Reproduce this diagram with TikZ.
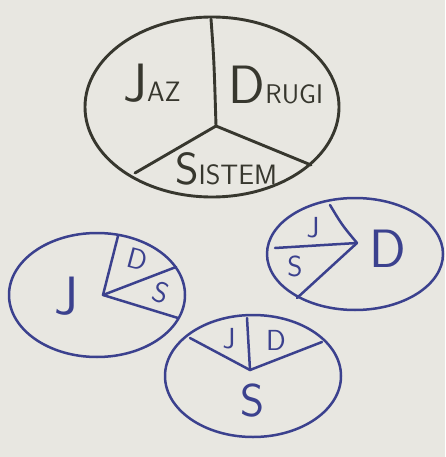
\documentclass[tikz,border=0pt]{standalone}
\begin{document}
\begin{tikzpicture}[x=1pt,y=-1pt,
  ink/.style={line width=2.9pt,line cap=round,line join=round},
  dark/.style={ink,draw=darkink},
  blue/.style={ink,draw=blueink,line width=2.5pt},
  txt/.style={inner sep=0pt,font=\sffamily},
  big/.style={font=\sffamily\fontsize{54}{54}\selectfont},
  sml/.style={font=\sffamily\fontsize{29}{29}\selectfont}]
\definecolor{darkink}{HTML}{37372E}
\definecolor{blueink}{HTML}{3B418E}
\definecolor{board}{HTML}{E8E7E1}
\useasboundingbox (0,0) rectangle (445,457);
\fill[board] (0,0) rectangle (445,457);
% top pie
\coordinate (tc) at (216,126);
\draw[dark] (212,107) ellipse [x radius=127, y radius=90];
\draw[dark] (211,19) .. controls (214,60) .. (tc);
\draw[dark] (tc) -- (135,173);
\draw[dark] (tc) -- (311,165);
\node[txt,text=darkink,anchor=base] (jaz) at (152,102) {\fontsize{54}{54}\selectfont J\fontsize{28}{28}\selectfont AZ};
\node[txt,text=darkink,anchor=base] (drugi) at (276,104) {\fontsize{54}{54}\selectfont D\fontsize{27}{27}\selectfont RUGI};
\node[txt,text=darkink,anchor=base] (sistem) at (226,184) {\fontsize{45}{45}\selectfont S\fontsize{28}{28}\selectfont ISTEM};
% left pie
\coordinate (lc) at (103,295);
\draw[blue] (97,295) ellipse [x radius=88, y radius=62];
\draw[blue] (lc) -- (118,236);
\draw[blue] (lc) -- (176,267);
\draw[blue] (lc) -- (178,318);
\node[txt,text=blueink,big] (lj) at (66,296) {J};
\node[txt,text=blueink,sml,rotate=-15] (ld) at (138,259) {D};
\node[txt,text=blueink,sml,rotate=-20] (ls) at (161,293) {S};
% right pie
\coordinate (rc) at (357,243);
\draw[blue] (355,254) ellipse [x radius=88, y radius=56];
\draw[blue] (330,205) .. controls (342,225) .. (rc);
\draw[blue] (rc) -- (275,248);
\draw[blue] (rc) -- (297,298);
\node[txt,text=blueink,sml] (rj) at (313,228) {J};
\node[txt,text=blueink,sml] (rs) at (295,266) {S};
\node[txt,text=blueink,big] (rd) at (388,249) {D};
% bottom pie
\coordinate (bc) at (250,370);
\draw[blue] (253,376) ellipse [x radius=88, y radius=61];
\draw[blue] (bc) -- (247,318);
\draw[blue] (bc) -- (190,338);
\draw[blue] (bc) -- (322,342);
\node[txt,text=blueink,sml] (bj) at (229,339) {J};
\node[txt,text=blueink,sml] (bd) at (276,340) {D};
\node[txt,text=blueink,font=\sffamily\fontsize{46}{46}\selectfont] (bs) at (253,401) {S};
\end{tikzpicture}
\end{document}
